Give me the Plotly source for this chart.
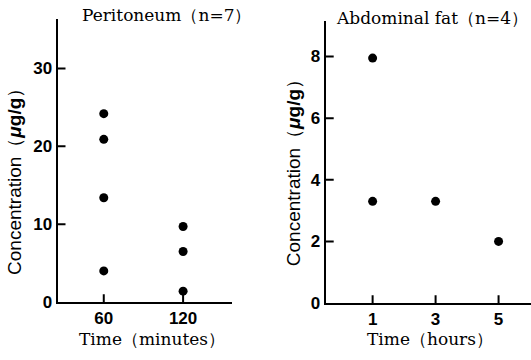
import plotly.graph_objects as go

# Data
perit_time = [60, 60, 60, 60, 120, 120, 120]
perit_conc = [24.2, 20.9, 13.4, 4.0, 9.7, 6.5, 1.4]
fat_time = [1, 1, 3, 5]
fat_conc = [7.95, 3.3, 3.3, 2.0]
perit_ticks = [60, 120]
perit_yticks = [0, 10, 20, 30]
fat_ticks = [1, 3, 5]
fat_yticks = [0, 2, 4, 6, 8]

W, H = 531, 360
serif = "DejaVu Serif, Liberation Serif, serif"
tickfont = dict(family="Liberation Sans Narrow, Liberation Sans, Arial", size=17, color="black", weight="bold")

xd1 = [57.5/W, 232/W]; yd1 = [1-310.7/H, 1-20/H]
xd2 = [325.7/W, 1.0]; yd2 = [1-311.7/H, 1-21.7/H]
xr1 = [25, 157]; yr1 = [0, 36.3]
xr2 = [-0.49, 6.03]; yr2 = [0, 9.15]

fig = go.Figure()

# inside tick marks built from the tick arrays
TL = 8  # px
def tick_trace(xvals, yvals, xr, yr, xd, yd, xa, ya):
    plot_w = (xd[1]-xd[0])*W; plot_h = (yd[1]-yd[0])*H
    dy = TL/plot_h*(yr[1]-yr[0]); dx = TL/plot_w*(xr[1]-xr[0])
    xs, ys = [], []
    for v in xvals:
        xs += [v, v, None]; ys += [yr[0], yr[0]+dy, None]
    for v in yvals:
        if v == yr[0]:
            continue
        xs += [xr[0], xr[0]+dx, None]; ys += [v, v, None]
    fig.add_trace(go.Scatter(x=xs, y=ys, mode="lines", line=dict(color="black", width=2),
                             xaxis=xa, yaxis=ya, showlegend=False, hoverinfo="skip", cliponaxis=False))

tick_trace(perit_ticks, perit_yticks, xr1, yr1, xd1, yd1, "x", "y")
tick_trace(fat_ticks, fat_yticks, xr2, yr2, xd2, yd2, "x2", "y2")

fig.add_trace(go.Scatter(x=perit_time, y=perit_conc, mode="markers",
                         marker=dict(color="black", size=9), xaxis="x", yaxis="y", showlegend=False))
fig.add_trace(go.Scatter(x=fat_time, y=fat_conc, mode="markers",
                         marker=dict(color="black", size=9), xaxis="x2", yaxis="y2", showlegend=False))

axcommon = dict(showline=True, linecolor="black", linewidth=2, showgrid=False, zeroline=False,
                ticks="", tickfont=tickfont, tickmode="array")

fig.update_layout(
    width=W, height=H, margin=dict(l=0, r=0, t=0, b=0),
    plot_bgcolor="white", paper_bgcolor="white",
    xaxis=dict(domain=xd1, range=xr1, tickvals=perit_ticks, anchor="y", **axcommon),
    yaxis=dict(domain=yd1, range=yr1, tickvals=perit_yticks, anchor="x", **axcommon),
    xaxis2=dict(domain=xd2, range=xr2, tickvals=fat_ticks, anchor="y2", **axcommon),
    yaxis2=dict(domain=yd2, range=yr2, tickvals=fat_yticks, anchor="x2", **axcommon),
)

def ann(text, x, y, size=17, angle=0, family=serif):
    fig.add_annotation(text=text, x=x/W, y=1-y/H, xref="paper", yref="paper",
                       showarrow=False, textangle=angle, xanchor="center", yanchor="middle",
                       font=dict(family=family, size=size, color="black"))

ann("Peritoneum（n=7）", 166, 15)
ann("Abdominal fat（n=4）", 432, 19)
ann("Time（minutes）", 152, 349)
ann("Time（hours）", 430, 349)
ycap = "Concentration（<b><i>μ</i>g/g</b>）"
ann(ycap, 15, 182, size=19, angle=-90, family="Liberation Sans, Arial, sans-serif")
ann(ycap, 293, 173, size=19, angle=-90, family="Liberation Sans, Arial, sans-serif")

fig.write_html("out.html")
